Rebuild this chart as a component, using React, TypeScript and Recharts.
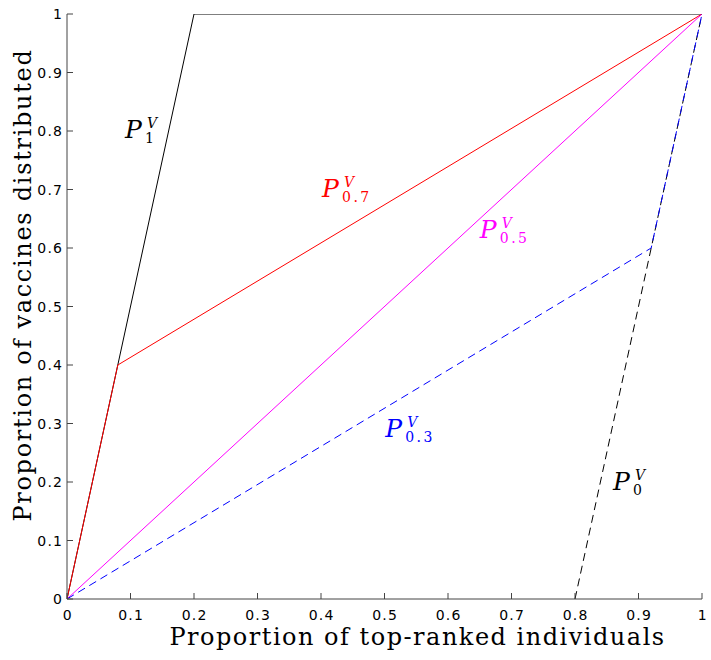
import React from 'react';
import { LineChart, Line, XAxis, YAxis, ReferenceDot } from 'recharts';

// ---- data ----
const tickValues = [0, 0.1, 0.2, 0.3, 0.4, 0.5, 0.6, 0.7, 0.8, 0.9, 1];
const xTitle = 'Proportion of top-ranked individuals';
const yTitle = 'Proportion of vaccines distributed';

const p1X = [0, 0.2, 1];
const p1Y = [0, 1, 1];
const p07X = [0, 0.08, 1];
const p07Y = [0, 0.4, 1];
const p05X = [0, 1];
const p05Y = [0, 1];
const p03X = [0, 0.92, 1];
const p03Y = [0, 0.6, 1];
const p0X = [0.8, 0.92, 1];
const p0Y = [0, 0.6, 1];

const labelNames = ['1', '0.7', '0.5', '0.3', '0'];
const labelX = [0.0913, 0.4016, 0.65, 0.501, 0.86];
const labelY = [0.788, 0.687, 0.617, 0.277, 0.186];
const labelColors = ['#000000', '#ff0000', '#ff00ff', '#0000ff', '#000000'];

const toPoints = (xs: number[], ys: number[]) => xs.map((x, i) => ({ x, y: ys[i] }));

const series = [
  { key: 'p1', data: toPoints(p1X, p1Y), color: '#000000', dash: undefined },
  { key: 'p07', data: toPoints(p07X, p07Y), color: '#ff0000', dash: undefined },
  { key: 'p05', data: toPoints(p05X, p05Y), color: '#ff00ff', dash: undefined },
  { key: 'p0', data: toPoints(p0X, p0Y), color: '#000000', dash: '8 5' },
  { key: 'p03', data: toPoints(p03X, p03Y), color: '#0000ff', dash: '8 5' },
];

const SERIF = 'DejaVu Serif';
const SANS = 'DejaVu Sans';

const fmt = (v: number) => (v === 0 ? '0' : v === 1 ? '1' : String(v));

const XTick = (props: any) => {
  const { x, y, payload } = props;
  return (
    <text x={x + 0.7} y={y + 14.5} textAnchor="middle" fontFamily={SANS} fontSize={14} letterSpacing={1.2} fill="#000">
      {fmt(payload.value)}
    </text>
  );
};

const YTick = (props: any) => {
  const { x, y, payload } = props;
  return (
    <text x={x + 1.2} y={y + 5} textAnchor="end" fontFamily={SANS} fontSize={14} letterSpacing={1.2} fill="#000">
      {fmt(payload.value)}
    </text>
  );
};

const MathLabel = (props: any) => {
  const { cx, cy, sub, color } = props;
  if (cx == null || cy == null) return null;
  return (
    <text x={cx} y={cy} fill={color} fontFamily={SERIF}>
      <tspan fontStyle="italic" fontSize={25}>P</tspan>
      <tspan x={cx + 20} dy={5} fontSize={14} letterSpacing={sub.length > 1 ? 2.5 : 0}>
        {sub}
      </tspan>
      <tspan x={cx + 22} dy={-15} fontStyle="italic" fontSize={14}>
        V
      </tspan>
    </text>
  );
};

const XTitle = (props: any) => {
  const vb = props.viewBox || { x: 67, y: 599, width: 635, height: 61 };
  return (
    <text
      x={vb.x + vb.width / 2 + 33}
      y={vb.y + 46}
      textAnchor="middle"
      fontFamily={SERIF}
      fontSize={24}
      letterSpacing={1.5}
      fill="#000"
    >
      {xTitle}
    </text>
  );
};

const YTitle = () => {
  const cx = 31;
  const cy = 285;
  return (
    <text
      x={cx}
      y={cy}
      transform={`rotate(-90 ${cx} ${cy})`}
      textAnchor="middle"
      fontFamily={SERIF}
      fontSize={24}
      letterSpacing={1.7}
      fill="#000"
    >
      {yTitle}
    </text>
  );
};

export default function App() {
  return (
    <div style={{ position: 'absolute', left: 0, top: 0, width: 711, height: 660, background: '#fff' }}>
      <LineChart width={711} height={660} margin={{ top: 14, right: 9, left: 10, bottom: 0 }}>
        <XAxis
          type="number"
          dataKey="x"
          domain={[0, 1]}
          ticks={tickValues}
          tickFormatter={fmt}
          height={61}
          tickSize={-6}
          tickMargin={12}
          interval={0}
          allowDataOverflow
          stroke="#444"
          tick={<XTick />}
          label={<XTitle />}
        />
        <YAxis
          type="number"
          dataKey="y"
          domain={[0, 1]}
          ticks={tickValues}
          tickFormatter={fmt}
          width={57}
          tickSize={-6}
          tickMargin={11}
          interval={0}
          allowDataOverflow
          stroke="#444"
          tick={<YTick />}
          label={<YTitle />}
        />
        {series.map((s) => (
          <Line
            key={s.key}
            data={s.data}
            dataKey="y"
            type="linear"
            stroke={s.color}
            strokeWidth={1}
            strokeDasharray={s.dash}
            dot={false}
            activeDot={false}
            isAnimationActive={false}
          />
        ))}
        {labelNames.map((n, i) => (
          <ReferenceDot
            key={n}
            x={labelX[i]}
            y={labelY[i]}
            r={0}
            ifOverflow="visible"
            shape={(p: any) => <MathLabel cx={p.cx} cy={p.cy} sub={n} color={labelColors[i]} />}
          />
        ))}
      </LineChart>
    </div>
  );
}
